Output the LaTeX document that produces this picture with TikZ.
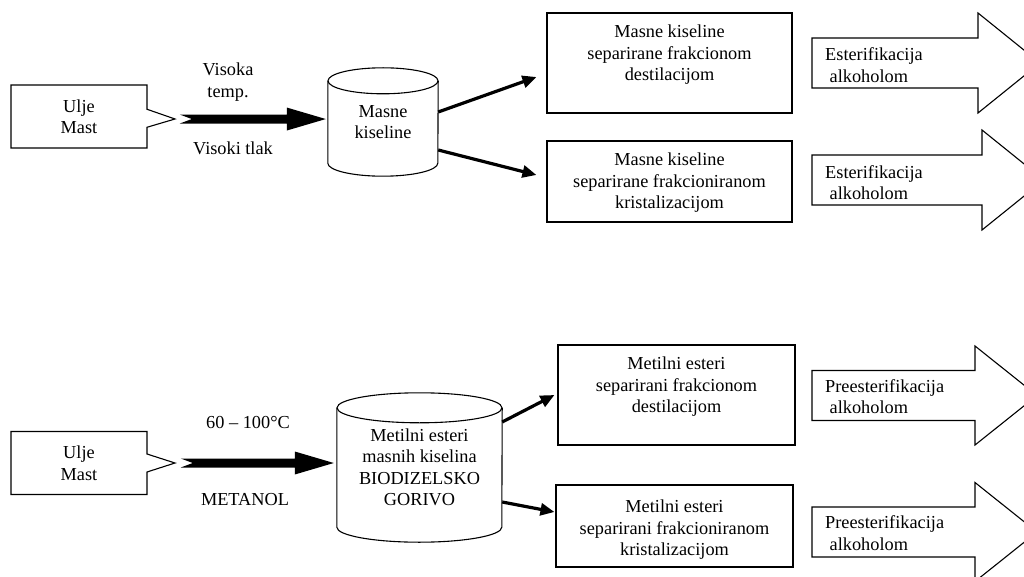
\documentclass[tikz,border=0pt]{standalone}
\usepackage{fontspec}
\setmainfont{Liberation Serif}
\usetikzlibrary{shapes.callouts,arrows.meta,calc}
\tikzset{
  every node/.style={font=\fontsize{18.3}{21.5}\selectfont, inner sep=0pt, align=center},
  outline/.style={draw, line width=1.1pt},
  boxnode/.style={outline, rectangle},
  plain/.style={rectangle},
  calloutbox/.style={rectangle callout, outline, minimum width=136, minimum height=63, callout pointer width=18pt},
  conn/.style={line width=3.2pt, -{Triangle[length=14pt,width=12pt]}},
  leftlabel/.style={anchor=west, align=left},
}
\newcommand\fatarrow[2]{%
  \fill let \p1=(#1), \p2=(#2) in
    (\x1,\y1+4.5pt) -- (\x2-39pt,\y1+4.5pt) -- (\x2-39pt,\y1+11.5pt) -- (\x2,\y1)
    -- (\x2-39pt,\y1-11.5pt) -- (\x2-39pt,\y1-4.5pt) -- (\x1,\y1-4.5pt) -- (\x1+12pt,\y1) -- cycle;}
\newcommand\bigarrow[3]{%
  \draw[outline, line join=miter] (812,#3+25) -- (#2,#3+25) -- (#2,#3+#1) -- (#2+62,#3)
    -- (#2,#3-#1) -- (#2,#3-25) -- (812,#3-25) -- cycle;}
\newcommand\cylout[3]{%
  \draw[outline] ($(#1.north)+(0,-#3)$) ellipse [x radius=#2, y radius=#3];
  \draw[outline] ($(#1.north west)+(0,-#3)$) -- ($(#1.south west)+(0,#3)$)
    arc[start angle=180, end angle=360, x radius=#2, y radius=#3]
    -- ($(#1.north east)+(0,-#3)$);}
\begin{document}
\begin{tikzpicture}[x=1pt,y=1pt]
\path[use as bounding box] (0,0) rectangle (1024,-577);
\clip (0,0) rectangle (1024,-577);

% ---------- upper row ----------
\node[calloutbox, callout absolute pointer={(175,-119)}] (u1) at (79,-116.5) {Ulje\\Mast};
\node[plain, minimum width=110, minimum height=108] (cyl1) at (383,-122) {Masne\\kiseline};
\cylout{cyl1}{55}{13}
\coordinate (a1s) at ($(u1.pointer)+(3,0)$);
\coordinate (a1e) at ($(cyl1.west |- a1s)+(-2,0)$);
\fatarrow{a1s}{a1e}
\node (l1) at (228,-82) {Visoka\\temp.};
\node (l2) at (233,-148) {Visoki tlak};

\node[boxnode, minimum width=245, minimum height=100] (b1) at (669.5,-63) {};
\node (b1t) at (669.5,-55) {Masne kiseline\\separirane frakcionom\\destilacijom};
\node[boxnode, minimum width=245, minimum height=81] (b2) at (669.5,-181.5) {};
\node (b2t) at (669.5,-183) {Masne kiseline\\separirane frakcioniranom\\kristalizacijom};

\draw[conn] ($(cyl1.east)+(0,10)$) -- ($(b1.west)+(-10,-14)$);
\draw[conn] ($(cyl1.east)+(0,-28)$) -- ($(b2.west)+(-10,6.5)$);

\bigarrow{50}{978}{-63}
\node[leftlabel] (e1) at (825,-65) {Esterifikacija\\\hspace*{4.5pt}alkoholom};
\bigarrow{50}{982}{-180}
\node[leftlabel] (e2) at (825,-182.5) {Esterifikacija\\\hspace*{4.5pt}alkoholom};

% ---------- lower row ----------
\node[calloutbox, callout absolute pointer={(175,-463)}] (u2) at (79,-463) {Ulje\\Mast};
\node[plain, minimum width=165, minimum height=149] (cyl2) at (419.5,-467.5) {Metilni esteri\\masnih kiselina\\BIODIZELSKO\\GORIVO};
\cylout{cyl2}{82.5}{15}
\coordinate (a2s) at ($(u2.pointer)+(4,0)$);
\coordinate (a2e) at ($(cyl2.west |- a2s)+(-3,0)$);
\fatarrow{a2s}{a2e}
\node (l3) at (248,-423) {60 – 100°C};
\node (l4) at (245,-500) {METANOL};

\node[boxnode, minimum width=237, minimum height=100] (b3) at (676.5,-395) {};
\node (b3t) at (676.5,-387) {Metilni esteri\\separirani frakcionom\\destilacijom};
\node[boxnode, minimum width=237, minimum height=82] (b4) at (674.5,-526) {};
\node (b4t) at (674.5,-530) {Metilni esteri\\separirani frakcioniranom\\kristalizacijom};

\draw[conn] ($(cyl2.east)+(0,45.5)$) -- ($(b3.west)+(-3,0)$);
\draw[conn] ($(cyl2.east)+(0,-34.5)$) -- ($(b4.west)+(-1,14)$);

\bigarrow{49.5}{975}{-395.5}
\node[leftlabel] (e3) at (825,-396.5) {Preesterifikacija\\\hspace*{4.5pt}alkoholom};
\bigarrow{49.5}{975}{-532}
\node[leftlabel] (e4) at (825,-533) {Preesterifikacija\\\hspace*{4.5pt}alkoholom};
\end{tikzpicture}
\end{document}
